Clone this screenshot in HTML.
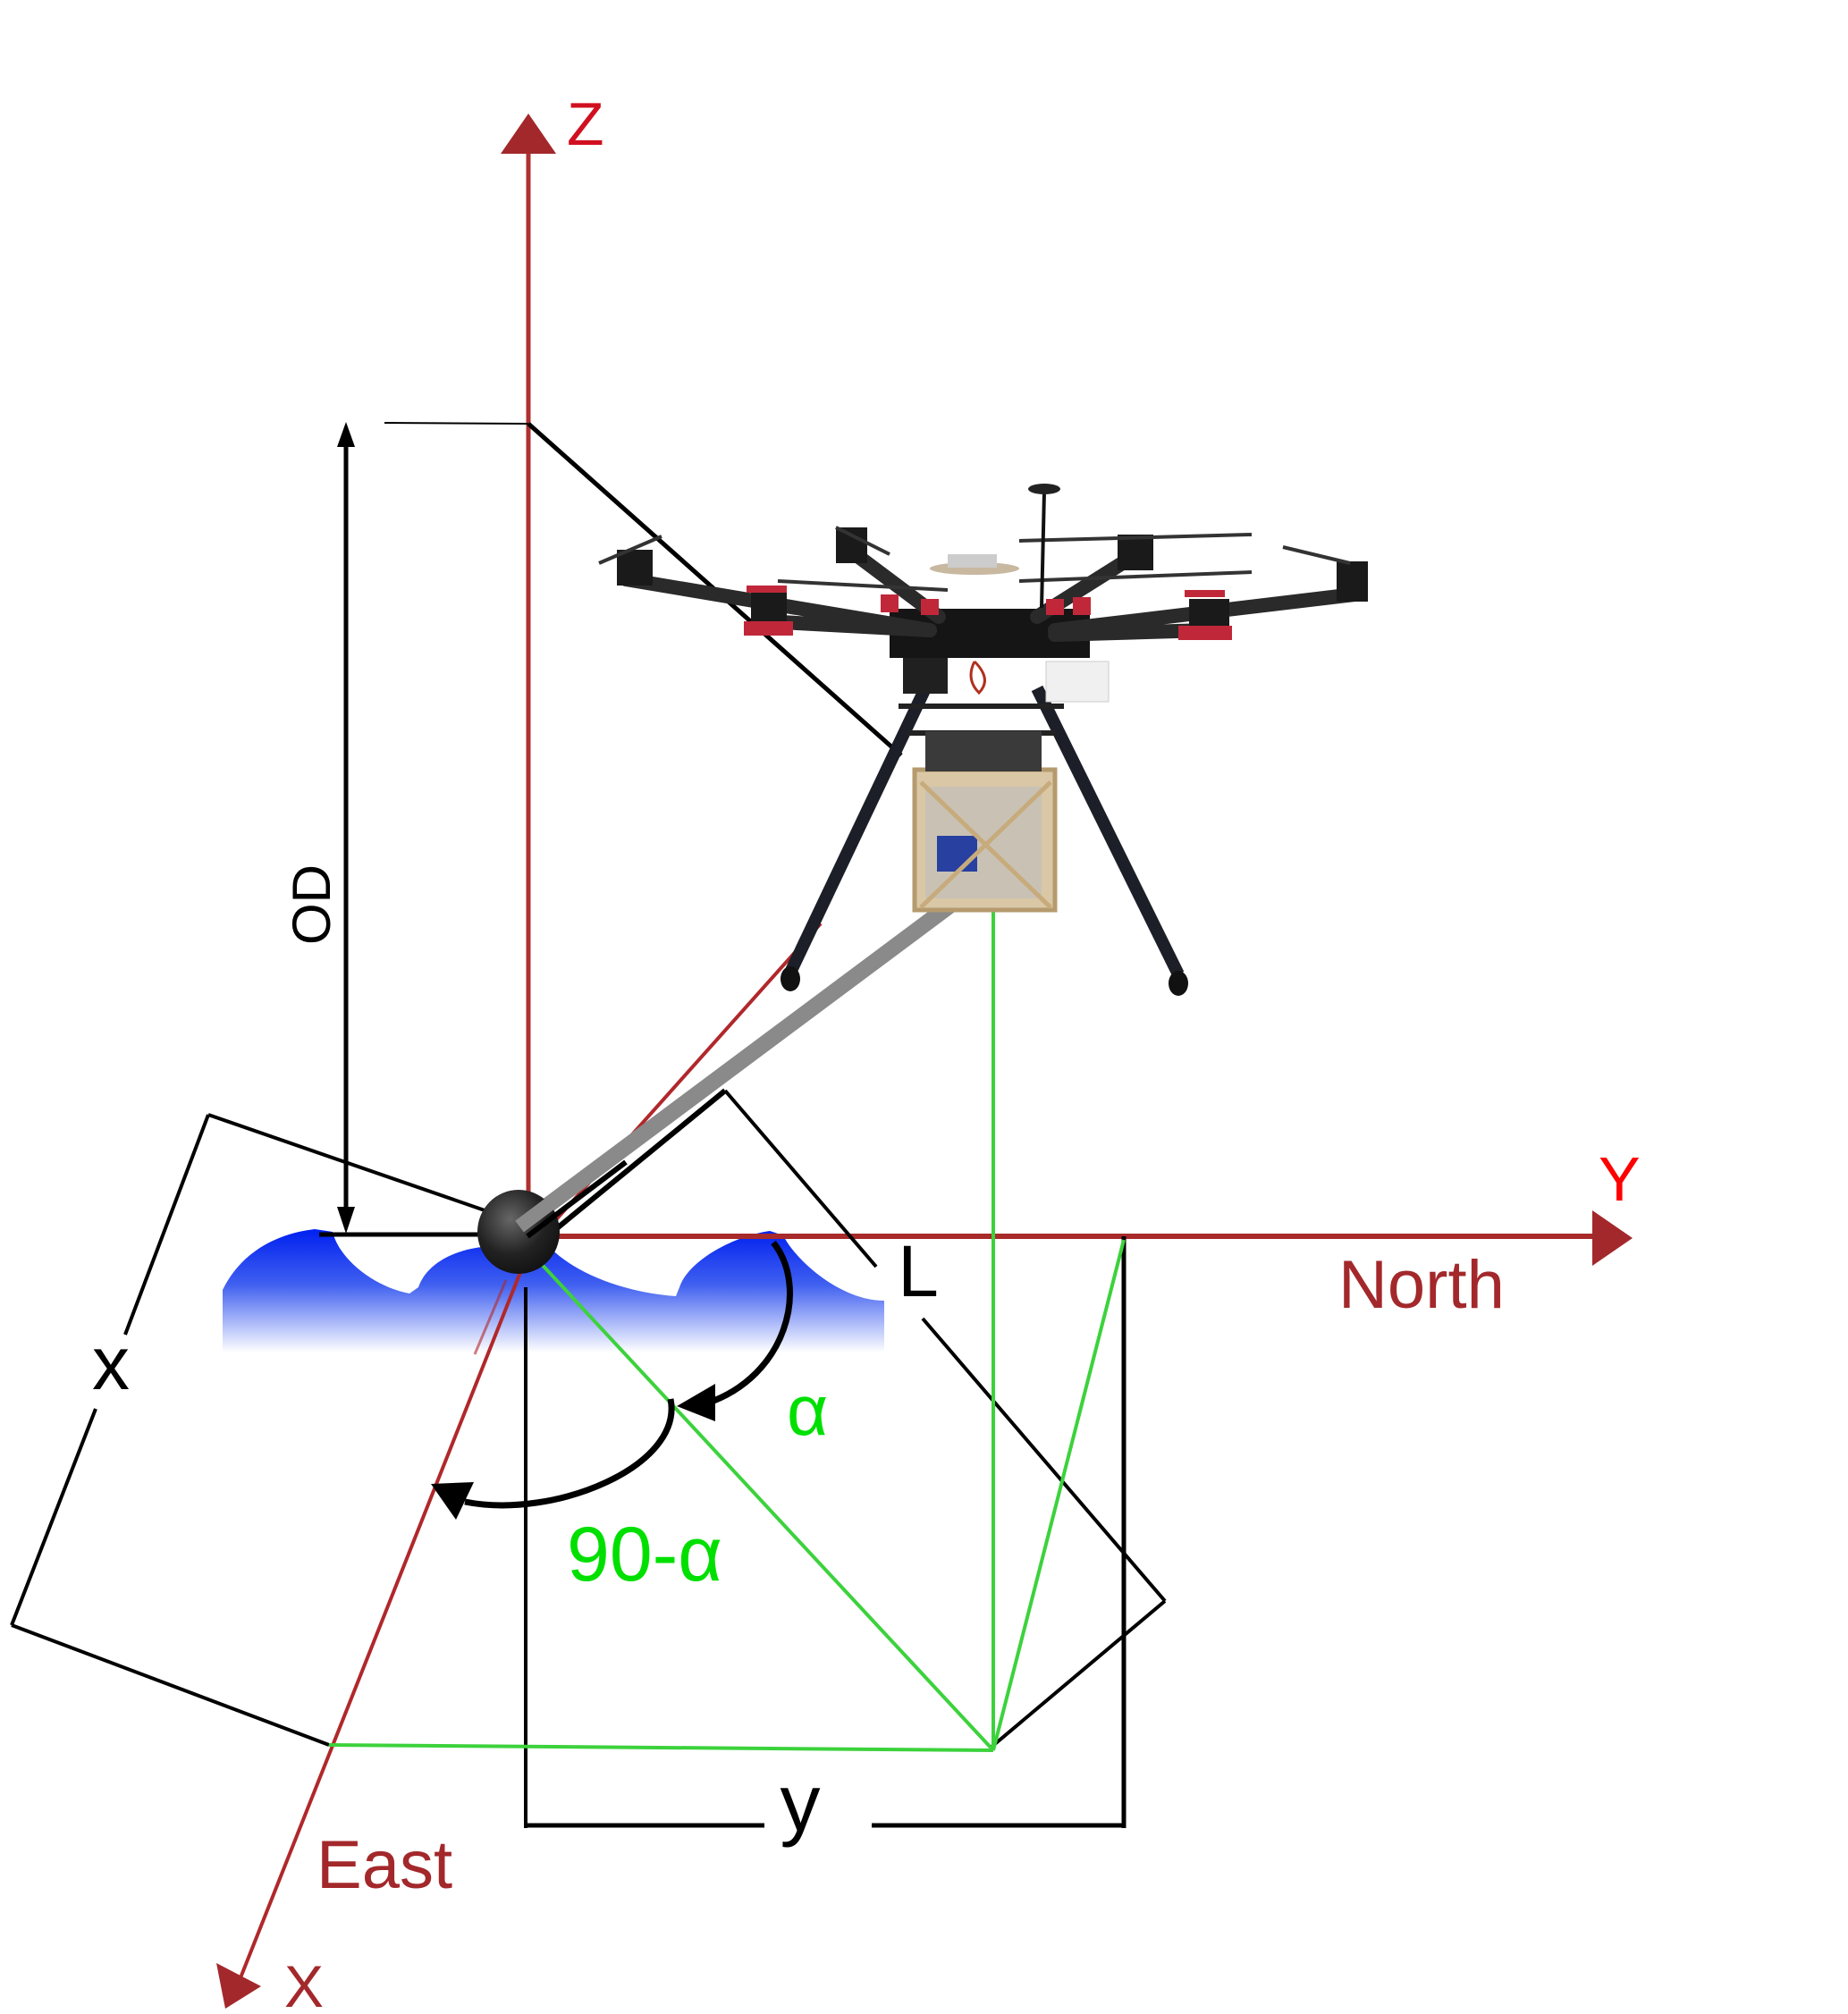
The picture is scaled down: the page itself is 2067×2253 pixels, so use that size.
<!DOCTYPE html>
<html><head><meta charset="utf-8"><style>
html,body{margin:0;padding:0;background:#fff}
svg{display:block}
text{font-family:"Liberation Sans",sans-serif}
</style></head><body>
<svg width="2067" height="2253" viewBox="0 0 2067 2253" xmlns="http://www.w3.org/2000/svg">
<defs>
<linearGradient id="wg" x1="0" y1="0" x2="0" y2="1">
<stop offset="0" stop-color="#0020f0"/>
<stop offset="0.45" stop-color="#4060f0"/>
<stop offset="1" stop-color="#ffffff"/>
</linearGradient>
<radialGradient id="bg" cx="0.4" cy="0.35" r="0.7">
<stop offset="0" stop-color="#666"/><stop offset="0.6" stop-color="#222"/><stop offset="1" stop-color="#111"/>
</radialGradient>
</defs>

<!-- water -->
<path d="M249,1443 C270,1400 310,1380 352,1375 L372,1378 C380,1410 420,1440 458,1447 L468,1440 C480,1405 530,1390 569,1395 L610,1390 C640,1425 700,1446 756,1450 L760,1440 C770,1410 820,1383 861,1377 L876,1382 C890,1410 940,1455 989,1455 L989,1513 L249,1513 Z" fill="url(#wg)"/>

<!-- Z axis -->
<line x1="591" y1="170" x2="591" y2="1380" stroke="#b03030" stroke-width="5"/>
<polygon points="591,127 560,172 622,172" fill="#a3282b"/>
<text x="634" y="162" font-size="68" fill="#d01020">Z</text>

<!-- Y axis -->
<line x1="620" y1="1383" x2="1785" y2="1383" stroke="#a82a2a" stroke-width="6"/>
<polygon points="1781,1354 1826,1385 1781,1416" fill="#a3282b"/>
<text x="1788" y="1343" font-size="70" fill="#ff0000">Y</text>
<text x="1497" y="1463" font-size="76" fill="#a3282b">North</text>

<!-- X axis (red, bent at ball) -->
<polyline points="918,1033 592,1398 268,2215" fill="none" stroke="#b0282b" stroke-width="4"/>
<line x1="566" y1="1432" x2="531" y2="1515" stroke="#b0282b" stroke-width="3" opacity="0.6"/>
<polygon points="252,2247 242,2196 292,2222" fill="#a3282b"/>
<text x="318" y="2245" font-size="66" fill="#a3282b">X</text>
<text x="354" y="2112" font-size="76" fill="#a3282b">East</text>

<!-- OD dimension -->
<line x1="430" y1="473" x2="591" y2="474" stroke="#000" stroke-width="2"/>
<line x1="387" y1="500" x2="387" y2="1350" stroke="#000" stroke-width="5"/>
<polygon points="387,472 377,500 397,500" fill="#000"/>
<polygon points="387,1380 377,1350 397,1350" fill="#000"/>
<line x1="357" y1="1381" x2="540" y2="1381" stroke="#000" stroke-width="5"/>
<text x="348" y="1012" font-size="60" fill="#000" text-anchor="middle" transform="rotate(-90 348 1012) translate(0 21)">OD</text>

<!-- line from Z to drone -->
<line x1="591" y1="474" x2="1008" y2="845" stroke="#000" stroke-width="5"/>

<!-- x dimension -->
<line x1="233" y1="1247" x2="545" y2="1355" stroke="#000" stroke-width="4"/>
<line x1="233" y1="1247" x2="140" y2="1493" stroke="#000" stroke-width="4"/>
<line x1="107" y1="1576" x2="13" y2="1818" stroke="#000" stroke-width="4"/>
<line x1="13" y1="1818" x2="368" y2="1952" stroke="#000" stroke-width="4"/>
<text x="124" y="1554" font-size="84" fill="#000" text-anchor="middle">x</text>

<!-- L dimension -->
<line x1="612" y1="1383" x2="811" y2="1220" stroke="#000" stroke-width="6"/>
<line x1="811" y1="1220" x2="980" y2="1417" stroke="#000" stroke-width="4"/>
<line x1="1032" y1="1475" x2="1303" y2="1791" stroke="#000" stroke-width="4"/>
<line x1="1303" y1="1791" x2="1108" y2="1955" stroke="#000" stroke-width="4"/>
<text x="1027" y="1450" font-size="82" fill="#000" text-anchor="middle">L</text>

<!-- y dimension -->
<line x1="588" y1="1440" x2="588" y2="2045" stroke="#000" stroke-width="4"/>
<line x1="1257" y1="1383" x2="1257" y2="2045" stroke="#000" stroke-width="5"/>
<line x1="588" y1="2042" x2="855" y2="2042" stroke="#000" stroke-width="5"/>
<line x1="975" y1="2042" x2="1257" y2="2042" stroke="#000" stroke-width="5"/>
<text x="895" y="2048" font-size="90" fill="#000" text-anchor="middle">y</text>

<!-- green -->
<g stroke="#3cd23c" stroke-width="4">
<line x1="1111" y1="976" x2="1111" y2="1955"/>
<line x1="368" y1="1952" x2="1111" y2="1958"/>
<line x1="600" y1="1408" x2="1111" y2="1958"/>
<line x1="1111" y1="1958" x2="1257" y2="1387"/>
</g>

<!-- gray beam -->
<line x1="581" y1="1372" x2="1112" y2="976" stroke="#8a8a8a" stroke-width="18"/>
<!-- ball -->
<ellipse cx="580" cy="1378" rx="46" ry="47" fill="url(#bg)"/>
<line x1="581" y1="1372" x2="700" y2="1283" stroke="#8a8a8a" stroke-width="16"/>
<line x1="590" y1="1383" x2="700" y2="1300" stroke="#000" stroke-width="6"/>

<!-- angle arcs -->
<path d="M865,1390 C905,1440 880,1540 790,1570" fill="none" stroke="#000" stroke-width="7"/>
<polygon points="757,1573 800,1548 800,1590" fill="#000"/>
<path d="M750,1565 C765,1640 620,1700 520,1680" fill="none" stroke="#000" stroke-width="7"/>
<polygon points="482,1660 530,1658 510,1700" fill="#000"/>
<text x="880" y="1605" font-size="80" fill="#00e000">α</text>
<text x="634" y="1768" font-size="86" fill="#00e000">90-α</text>

<!-- drone (simplified) -->
<g>
<line x1="1035" y1="770" x2="883" y2="1090" stroke="#1c1f28" stroke-width="14"/>
<line x1="1160" y1="770" x2="1318" y2="1090" stroke="#1c1f28" stroke-width="14"/>
<ellipse cx="884" cy="1095" rx="11" ry="14" fill="#111"/>
<ellipse cx="1318" cy="1100" rx="11" ry="14" fill="#111"/>
<line x1="1005" y1="790" x2="1190" y2="790" stroke="#222" stroke-width="6"/>
<line x1="1015" y1="820" x2="1180" y2="820" stroke="#222" stroke-width="6"/>
<rect x="1023" y="861" width="157" height="157" fill="#d9c7a5" stroke="#b59a6e" stroke-width="5"/>
<rect x="1035" y="880" width="130" height="125" fill="#c9c2b4"/>
<rect x="1048" y="935" width="45" height="40" fill="#2840a0"/>
<line x1="1030" y1="875" x2="1175" y2="1015" stroke="#c7ab7c" stroke-width="5"/>
<line x1="1175" y1="875" x2="1030" y2="1015" stroke="#c7ab7c" stroke-width="5"/>
<rect x="1035" y="818" width="130" height="45" fill="#3a3a3a"/>
<rect x="995" y="681" width="224" height="55" fill="#151515"/>
<rect x="1010" y="736" width="50" height="40" fill="#202020"/>
<rect x="1170" y="740" width="70" height="45" fill="#f0f0f0" stroke="#ccc"/>
<path d="M1090,740 q-10,20 5,35 q15,-15 -5,-35" fill="none" stroke="#b03020" stroke-width="3"/>
<g stroke="#2a2a2a" stroke-width="16" stroke-linecap="round">
<line x1="700" y1="648" x2="1040" y2="705"/>
<line x1="855" y1="695" x2="1040" y2="705"/>
<line x1="950" y1="615" x2="1050" y2="690"/>
<line x1="1268" y1="622" x2="1160" y2="690"/>
<line x1="1515" y1="665" x2="1180" y2="705"/>
<line x1="1350" y1="705" x2="1180" y2="710"/>
</g>
<g fill="#1a1a1a">
<rect x="690" y="615" width="40" height="40"/>
<rect x="840" y="660" width="40" height="45"/>
<rect x="935" y="590" width="35" height="40"/>
<rect x="1250" y="598" width="40" height="40"/>
<rect x="1330" y="670" width="45" height="45"/>
<rect x="1495" y="628" width="35" height="45"/>
</g>
<g fill="#c0283a">
<rect x="832" y="695" width="55" height="16"/>
<rect x="835" y="655" width="45" height="8"/>
<rect x="1318" y="700" width="60" height="16"/>
<rect x="1325" y="660" width="45" height="8"/>
<rect x="985" y="665" width="20" height="20"/>
<rect x="1200" y="668" width="20" height="20"/>
<rect x="1030" y="670" width="20" height="18"/>
<rect x="1170" y="670" width="20" height="18"/>
</g>
<g stroke="#333" stroke-width="4">
<line x1="670" y1="630" x2="740" y2="600"/>
<line x1="935" y1="590" x2="995" y2="620"/>
<line x1="870" y1="650" x2="1060" y2="660"/>
<line x1="1140" y1="650" x2="1400" y2="640"/>
<line x1="1140" y1="605" x2="1400" y2="598"/>
<line x1="1435" y1="612" x2="1510" y2="630"/>
</g>
<line x1="1168" y1="550" x2="1165" y2="680" stroke="#111" stroke-width="4"/>
<ellipse cx="1168" cy="547" rx="18" ry="6" fill="#222"/>
<ellipse cx="1090" cy="636" rx="50" ry="7" fill="#c8b8a0"/>
<rect x="1060" y="620" width="55" height="15" fill="#ccc"/>
</g>
</svg>
</body></html>
